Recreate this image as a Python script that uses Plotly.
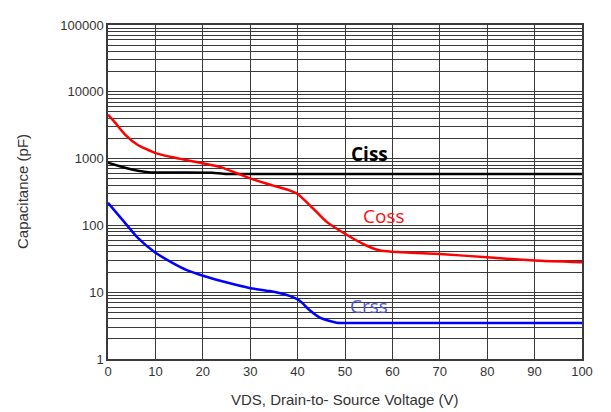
import math
import plotly.graph_objects as go

# ---- data ----
ciss_v = [0, 3.6, 6.3, 9, 15, 22, 25, 100]
ciss_c = [870, 728, 658, 621, 618, 615, 590, 590]

coss_v = [0, 1.5, 3.6, 6.3, 10, 15, 20, 23.6, 30, 35, 38, 40, 42.6, 46, 50, 54.5, 57.4, 60, 70, 80, 90, 100]
coss_c = [4550, 3450, 2290, 1600, 1210, 1000, 850, 753, 507, 391, 340, 295, 200, 115, 75, 50, 42, 40.3, 37.3, 33.3, 29.8, 28.1]

crss_v = [0, 3.5, 6.3, 9.8, 13.4, 16.9, 20.4, 23.9, 30, 34.1, 38.3, 40.4, 42.5, 44.6, 46.8, 48.2, 52, 100]
crss_c = [218, 111, 65, 40, 28, 21, 17.3, 14.7, 11.5, 10.4, 8.8, 7.5, 5.4, 4.2, 3.7, 3.5, 3.45, 3.45]

y_tickvals = [1, 10, 100, 1000, 10000, 100000]
y_ticktext = ["1", "10", "100", "1000", "10000", "100000"]
x_tickvals = [0, 10, 20, 30, 40, 50, 60, 70, 80, 90, 100]

labels = ["Ciss", "Coss", "Crss"]
label_x = [55.1, 58.2, 55.0]
label_y = [1180, 136, 6.3]
label_col = ["#000000", "#ff1010", "#4a55e0"]
label_bold = [True, False, False]

fig = go.Figure()
fig.add_trace(go.Scatter(x=ciss_v, y=ciss_c, mode="lines",
                         line=dict(color="#000000", width=2.5, shape="spline", smoothing=0.4)))
fig.add_trace(go.Scatter(x=coss_v, y=coss_c, mode="lines",
                         line=dict(color="#ff0000", width=2.5, shape="spline", smoothing=0.5)))
fig.add_trace(go.Scatter(x=crss_v, y=crss_c, mode="lines",
                         line=dict(color="#0000ff", width=2.5, shape="spline", smoothing=0.5)))

for t, lx, ly, c, b in zip(labels, label_x, label_y, label_col, label_bold):
    fig.add_annotation(x=lx, y=math.log10(ly), xref="x", yref="y", text=(f"<b>{t}</b>" if b else t),
                       showarrow=False, xanchor="center", yanchor="middle",
                       font=dict(family="Open Sans", size=19, color=c))

fig.add_annotation(x=(22 - 108) / 474, y=0.5, xref="paper", yref="paper",
                   text="Capacitance (pF)", textangle=-90, showarrow=False,
                   xanchor="center", yanchor="middle",
                   font=dict(family="Liberation Sans", size=15, color="#333333"))
fig.add_annotation(x=0.5, y=(359 - 400) / 341, xref="paper", yref="paper",
                   text="VDS, Drain-to- Source Voltage (V)", showarrow=False,
                   xanchor="center", yanchor="middle",
                   font=dict(family="Liberation Sans", size=15, color="#333333"))

fig.update_layout(
    width=611, height=412,
    margin=dict(l=100, r=37, t=10, b=61),
    paper_bgcolor="white", plot_bgcolor="white",
    showlegend=False,
    font=dict(family="Liberation Sans", size=13, color="#333333"),
)
fig.update_xaxes(range=[0, 100], tickvals=x_tickvals, showgrid=True, gridcolor="#3a3a3a", gridwidth=1,
                 showline=True, linecolor="#3a3a3a", linewidth=1.5, mirror=True, zeroline=False,
                 ticks="", ticklen=0, tickfont=dict(size=13, color="#333333"))
fig.update_yaxes(type="log", range=[0, 5], tickvals=y_tickvals, ticktext=y_ticktext,
                 showgrid=True, gridcolor="#3a3a3a", gridwidth=1,
                 minor=dict(dtick="D1", showgrid=True, gridcolor="#3a3a3a", gridwidth=1, ticks=""),
                 showline=True, linecolor="#3a3a3a", linewidth=1.5, mirror=True, zeroline=False,
                 ticks="", tickfont=dict(size=13, color="#333333"))

fig.write_html("out.html")
